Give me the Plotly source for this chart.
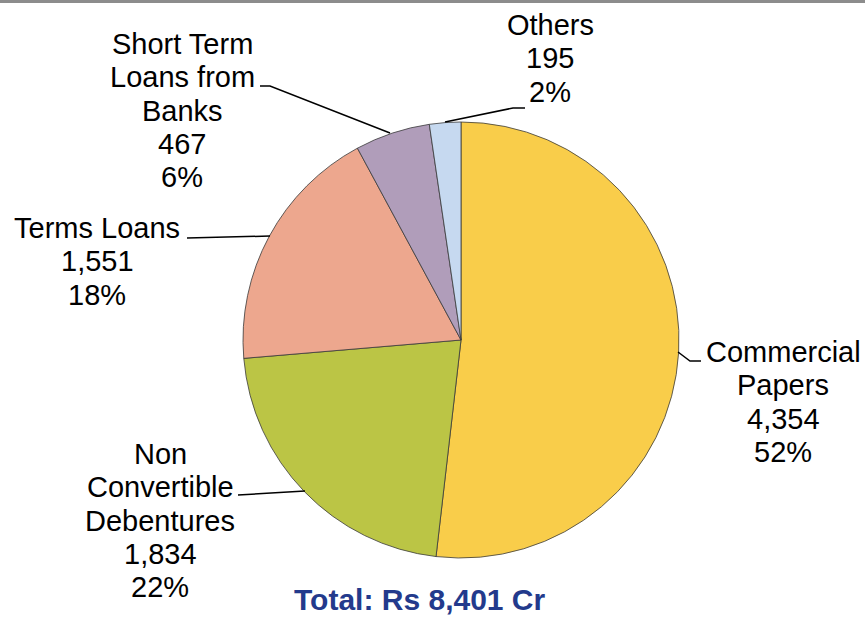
import plotly.graph_objects as go

W, H = 865, 619

categories = ["Commercial<br>Papers", "Non<br>Convertible<br>Debentures", "Terms Loans",
              "Short Term<br>Loans from<br>Banks", "Others"]
values = [4354, 1834, 1551, 467, 195]
colors = ["#F9CD4A", "#BBC545", "#EDA78E", "#B09DBA", "#C6D9F0"]
total_label = "Total: Rs 8,401 Cr"

total = sum(values)

# pie geometry (pixels)
cx, cy, r = 461, 340, 218

fig = go.Figure(go.Pie(
    labels=[c.replace("<br>", " ") for c in categories],
    values=values,
    marker=dict(colors=colors, line=dict(color="#3a3a3a", width=0.8)),
    sort=False, direction="clockwise", rotation=0,
    textinfo="none", hoverinfo="label+value+percent",
    domain=dict(x=[(cx - r) / W, (cx + r) / W], y=[1 - (cy + r) / H, 1 - (cy - r) / H]),
    showlegend=False,
))

# label block placement: (center x px, first line center y px)
label_pos = [(783, 352), (160, 454), (97, 228), (182, 44), (550, 25)]
step = 33.3

def px(x):
    return x / W

def py(y):
    return 1 - y / H

annotations = []
for cat, val, (lx, ly) in zip(categories, values, label_pos):
    lines = cat.split("<br>") + [f"{val:,}", f"{round(100 * val / total)}%"]
    for i, t in enumerate(lines):
        annotations.append(dict(
            x=px(lx), y=py(ly + i * step), xref="paper", yref="paper",
            text=t, showarrow=False, xanchor="center", yanchor="middle",
            font=dict(family="Liberation Sans, Arial, sans-serif", size=29, color="#000000"),
        ))

annotations.append(dict(
    x=px(420), y=py(599), xref="paper", yref="paper", text=f"<b>{total_label}</b>",
    showarrow=False, xanchor="center", yanchor="middle", borderpad=0,
    font=dict(family="Liberation Sans, Arial, sans-serif", size=30, color="#233A8C"),
))

# leader lines (pixel coordinates of the callout paths)
leaders = [
    [(678, 352), (690, 361), (701, 361)],
    [(238, 495), (305, 491)],
    [(187, 238), (270, 236)],
    [(260, 86), (270, 86), (390, 133)],
    [(445, 122), (513, 108), (525, 108)],
]
shapes = []
for pts in leaders:
    path = "M " + " L ".join(f"{px(x):.5f},{py(y):.5f}" for x, y in pts)
    shapes.append(dict(type="path", xref="paper", yref="paper", path=path,
                       line=dict(color="#000000", width=1.5)))

shapes.append(dict(type="line", xref="paper", yref="paper", x0=0, x1=1,
                   y0=py(1.5), y1=py(1.5), line=dict(color="#8c8c8c", width=3)))

fig.update_layout(
    width=W, height=H, margin=dict(l=0, r=0, t=0, b=0),
    paper_bgcolor="white", plot_bgcolor="white",
    annotations=annotations, shapes=shapes,
)

fig.write_html("out.html", config={"displayModeBar": False},
               post_script="document.body.style.margin='0px';document.body.style.padding='0px';")
